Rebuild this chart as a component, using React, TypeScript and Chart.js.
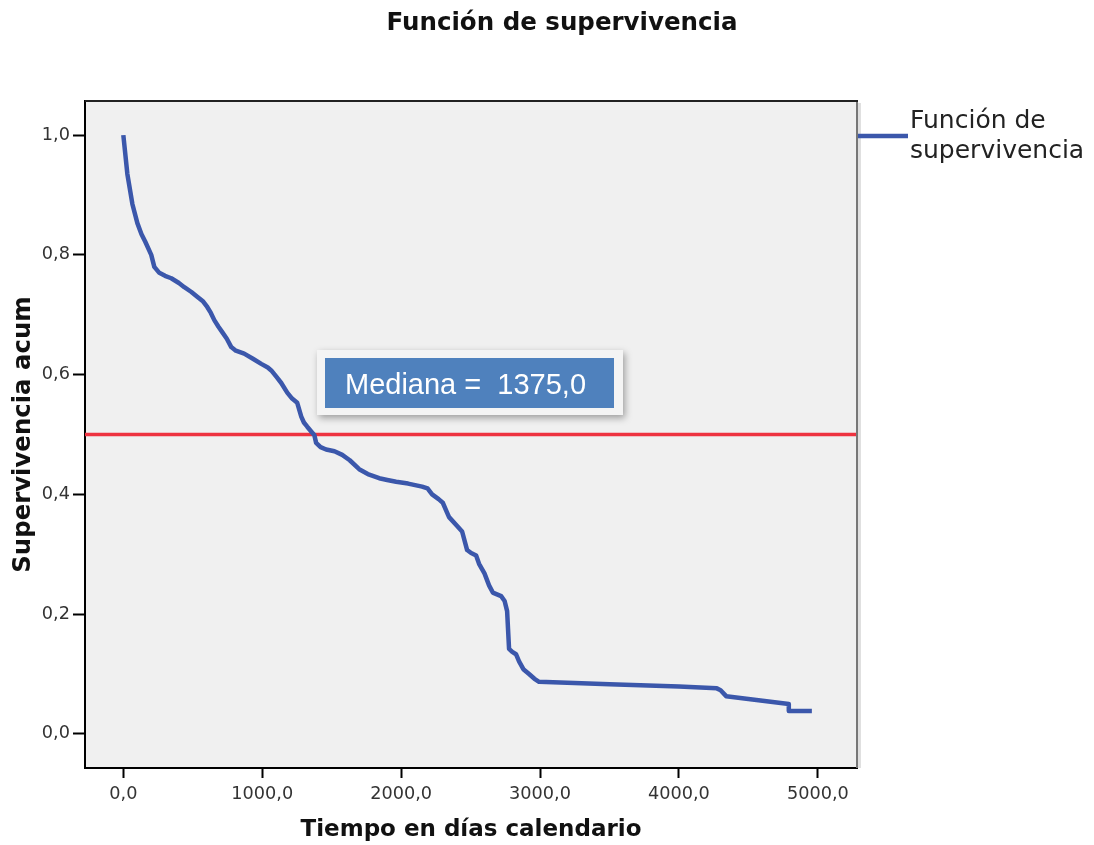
import React, { useEffect, useRef } from "react";
import { Chart, registerables } from "chart.js";

Chart.register(...registerables);

// ---- Data ----
const TIMES: number[] = [
  0, 29, 65, 101, 130, 158, 201, 223, 259, 300, 345, 400, 439, 490, 532, 575,
  604, 630, 655, 685, 712, 745, 777, 810, 870, 930, 993, 1040, 1065, 1100,
  1137, 1180, 1215, 1252, 1281, 1300, 1324, 1360, 1375, 1388, 1420, 1460,
  1520, 1576, 1630, 1698, 1760, 1842, 1900, 1964, 2050, 2151, 2190, 2223,
  2270, 2300, 2330, 2345, 2400, 2439, 2475, 2504, 2540, 2561, 2600, 2633,
  2660, 2720, 2745, 2763, 2777, 2800, 2827, 2849, 2880, 2921, 2960, 2993,
  3500, 4000, 4273, 4300, 4340, 4791, 4791, 4957,
];
const SURVIVAL: number[] = [
  1.0, 0.935, 0.885, 0.853, 0.835, 0.822, 0.8, 0.78, 0.77, 0.765, 0.761,
  0.753, 0.746, 0.738, 0.73, 0.722, 0.713, 0.703, 0.691, 0.68, 0.671, 0.66,
  0.646, 0.64, 0.635, 0.627, 0.618, 0.612, 0.607, 0.597, 0.586, 0.57, 0.56,
  0.553, 0.53, 0.52, 0.513, 0.503, 0.499, 0.486, 0.479, 0.475, 0.472, 0.466,
  0.457, 0.442, 0.434, 0.427, 0.424, 0.421, 0.418, 0.413, 0.41, 0.4, 0.392,
  0.386, 0.37, 0.362, 0.348, 0.338, 0.307, 0.302, 0.298, 0.284, 0.268, 0.248,
  0.236, 0.23, 0.222, 0.205, 0.142, 0.137, 0.133, 0.121, 0.108, 0.1, 0.092,
  0.087, 0.083, 0.079, 0.076, 0.073, 0.063, 0.05, 0.038, 0.038,
];
const MEDIAN_SURVIVAL = 0.5;
const MEDIAN_TIME = 1375.0;

const X_TICKS: number[] = [0, 1000, 2000, 3000, 4000, 5000];
const Y_TICKS: number[] = [0, 0.2, 0.4, 0.6, 0.8, 1.0];

const X_MIN = -276;
const X_MAX = 5282;
const Y_MIN = -0.057;
const Y_MAX = 1.057;

const TITLE = "Función de supervivencia";
const X_TITLE = "Tiempo en días calendario";
const Y_TITLE = "Supervivencia acum";
const LEGEND_LINES = ["Función de", "supervivencia"];
const MEDIAN_LABEL = "Mediana =  " + MEDIAN_TIME.toFixed(1).replace(".", ",");

const CURVE_COLOR = "#3B57AB";
const MEDIAN_COLOR = "#EE3340";
const PLOT_BG = "#F0F0F0";

const fmt = (v: number | string) => Number(v).toFixed(1).replace(".", ",");

const decorPlugin = {
  id: "decor",
  beforeDraw(chart: any) {
    const { ctx, chartArea } = chart;
    ctx.save();
    ctx.fillStyle = "#FFFFFF";
    ctx.fillRect(0, 0, chart.width, chart.height);
    ctx.fillStyle = PLOT_BG;
    ctx.fillRect(
      chartArea.left,
      chartArea.top,
      chartArea.right - chartArea.left,
      chartArea.bottom - chartArea.top
    );
    ctx.restore();
  },
  afterDraw(chart: any) {
    const { ctx, chartArea } = chart;
    const { left, right, top, bottom } = chartArea;
    ctx.save();
    // right shadow + border
    ctx.strokeStyle = "rgba(0,0,0,0.12)";
    ctx.lineWidth = 3;
    ctx.beginPath();
    ctx.moveTo(right + 2.5, top + 2);
    ctx.lineTo(right + 2.5, bottom);
    ctx.stroke();
    ctx.strokeStyle = "#777777";
    ctx.lineWidth = 2;
    ctx.beginPath();
    ctx.moveTo(right, top);
    ctx.lineTo(right, bottom);
    ctx.stroke();
    // top border
    ctx.strokeStyle = "#222222";
    ctx.beginPath();
    ctx.moveTo(left, top);
    ctx.lineTo(right + 1, top);
    ctx.stroke();

    // title
    ctx.fillStyle = "#111111";
    ctx.font = "bold 24.5px 'DejaVu Sans'";
    ctx.textAlign = "center";
    ctx.textBaseline = "alphabetic";
    ctx.fillText(TITLE, 562, 30);

    // legend
    ctx.strokeStyle = CURVE_COLOR;
    ctx.lineWidth = 4.5;
    ctx.beginPath();
    ctx.moveTo(right + 1, top + 35);
    ctx.lineTo(right + 51, top + 35);
    ctx.stroke();
    ctx.fillStyle = "#222222";
    ctx.font = "25px 'DejaVu Sans'";
    ctx.textAlign = "left";
    ctx.fillText(LEGEND_LINES[0], right + 53, top + 27);
    ctx.fillText(LEGEND_LINES[1], right + 53, top + 57);

    // median annotation box
    const bx = left + 232;
    const by = top + 249;
    ctx.save();
    ctx.shadowColor = "rgba(0,0,0,0.35)";
    ctx.shadowBlur = 7;
    ctx.shadowOffsetX = 2;
    ctx.shadowOffsetY = 3;
    ctx.fillStyle = "#F4F4F4";
    ctx.fillRect(bx, by, 306, 65);
    ctx.restore();
    ctx.fillStyle = "#4F81BD";
    ctx.fillRect(bx + 8, by + 8, 289, 50);
    ctx.fillStyle = "#FFFFFF";
    ctx.font = "29px 'Liberation Sans'";
    ctx.textAlign = "left";
    ctx.textBaseline = "alphabetic";
    ctx.fillText(MEDIAN_LABEL, bx + 28, by + 44);
    ctx.restore();
  },
};

export default function App() {
  const ref = useRef<HTMLCanvasElement | null>(null);

  useEffect(() => {
    document.body.style.margin = "0";
    document.body.style.overflow = "hidden";
    if (!ref.current) return;
    const curve = TIMES.map((t, i) => ({ x: t, y: SURVIVAL[i] }));
    const medianLine = [
      { x: X_MIN, y: MEDIAN_SURVIVAL },
      { x: X_MAX, y: MEDIAN_SURVIVAL },
    ];
    const chart = new Chart(ref.current, {
      type: "line",
      data: {
        datasets: [
          {
            label: "Función de supervivencia",
            data: curve,
            borderColor: CURVE_COLOR,
            borderWidth: 4.5,
            pointRadius: 0,
            tension: 0,
            fill: false,
            borderJoinStyle: "round",
            order: 1,
          },
          {
            label: "Mediana",
            data: medianLine,
            borderColor: MEDIAN_COLOR,
            borderWidth: 3.5,
            pointRadius: 0,
            fill: false,
            order: 2,
          },
        ],
      },
      options: {
        responsive: false,
        animation: false,
        devicePixelRatio: 1,
        layout: { padding: { top: 101, right: 237, left: 0, bottom: 0 } },
        plugins: {
          legend: { display: false },
          title: { display: false },
          tooltip: { enabled: false },
        },
        scales: {
          x: {
            type: "linear",
            min: X_MIN,
            max: X_MAX,
            afterFit: (s: any) => {
              s.height = 77;
            },
            afterBuildTicks: (s: any) => {
              s.ticks = X_TICKS.map((v) => ({ value: v }));
            },
            border: { display: true, color: "#000000", width: 2 },
            grid: {
              display: true,
              drawOnChartArea: false,
              drawTicks: true,
              tickLength: 10,
              tickColor: "#000000",
              tickWidth: 2,
            },
            ticks: {
              autoSkip: false,
              maxRotation: 0,
              color: "#333333",
              font: { family: "'DejaVu Sans'", size: 17.7 },
              padding: 6,
              callback: (v: any) => fmt(v),
            },
            title: {
              display: true,
              text: X_TITLE,
              color: "#111111",
              font: { family: "'DejaVu Sans'", size: 23, weight: "bold" },
              padding: { top: 0, bottom: 1 },
            },
          },
          y: {
            type: "linear",
            min: Y_MIN,
            max: Y_MAX,
            afterFit: (s: any) => {
              s.width = 85;
            },
            afterBuildTicks: (s: any) => {
              s.ticks = Y_TICKS.map((v) => ({ value: v }));
            },
            border: { display: true, color: "#000000", width: 2 },
            grid: {
              display: true,
              drawOnChartArea: false,
              drawTicks: true,
              tickLength: 12,
              tickColor: "#000000",
              tickWidth: 2,
            },
            ticks: {
              autoSkip: false,
              color: "#333333",
              font: { family: "'DejaVu Sans'", size: 17.7 },
              padding: 3,
              callback: (v: any) => fmt(v),
            },
            title: {
              display: true,
              text: Y_TITLE,
              color: "#111111",
              font: { family: "'DejaVu Sans'", size: 24.4, weight: "bold" },
              padding: { top: 9, bottom: 0 },
            },
          },
        },
      },
      plugins: [decorPlugin],
    } as any);
    return () => chart.destroy();
  }, []);

  return (
    <div style={{ width: 1094, height: 845, position: "relative" }}>
      <canvas ref={ref} width={1094} height={845} style={{ display: "block" }} />
    </div>
  );
}
